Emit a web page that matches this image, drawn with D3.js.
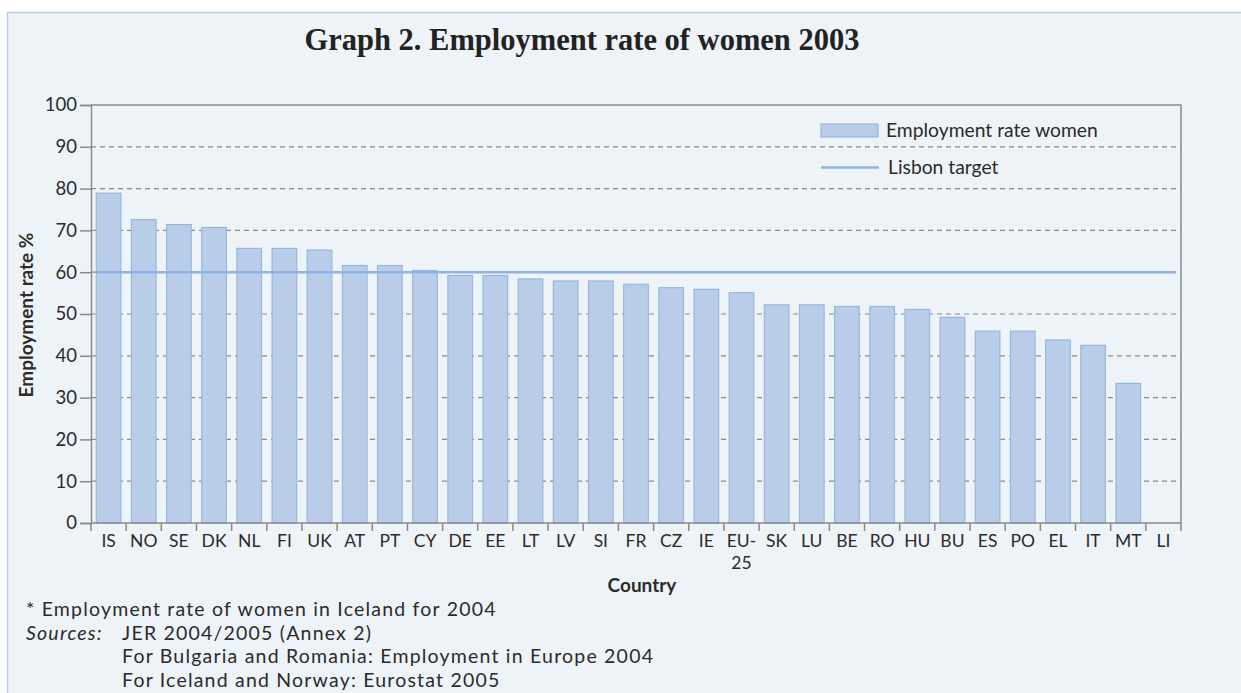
<!DOCTYPE html>
<html><head><meta charset="utf-8">
<script src="https://cdn.jsdelivr.net/npm/d3@7"></script>
<style>
body{margin:0;background:#fff;}
svg text{font-family:"Lato","Open Sans",sans-serif;fill:#2b2b2b;}
</style></head>
<body><svg id="c" width="1241" height="693"></svg>
<script>
const countries = ["IS","NO","SE","DK","NL","FI","UK","AT","PT","CY","DE","EE","LT","LV","SI","FR","CZ","IE","EU-25","SK","LU","BE","RO","HU","BU","ES","PO","EL","IT","MT","LI"];
const rates = [78.9,72.6,71.4,70.7,65.7,65.7,65.3,61.6,61.6,60.4,59.2,59.2,58.4,57.9,57.9,57.1,56.3,55.9,55.1,52.2,52.2,51.8,51.8,51.1,49.2,45.9,45.9,43.8,42.5,33.4,null];
const lisbonTarget = 60;
const yTicks = [0,10,20,30,40,50,60,70,80,90,100];
const footnote = "* Employment rate of women in Iceland for 2004";
const sources = ["JER 2004/2005 (Annex 2)","For Bulgaria and Romania: Employment in Europe 2004","For Iceland and Norway: Eurostat 2005"];

const svg = d3.select("#c");
svg.append("rect").attr("x",7.5).attr("y",12.5).attr("width",1260).attr("height",720)
  .attr("fill","#eef3f8").attr("stroke","#b9cde6").attr("stroke-width",1.5);

const L=91, R=1181, T=105, B=523;
const x = d3.scaleBand().domain(countries).range([L,R]).paddingInner(0.3).paddingOuter(0.15);
const xb = d3.scaleBand().domain(countries).range([L,R]);
const y = d3.scaleLinear().domain([0,100]).range([B,T]);

svg.append("text").attr("x",582).attr("y",50).attr("text-anchor","middle")
  .style("font-family","'Liberation Serif',serif").style("font-weight","bold").style("font-size","30.5px")
  .style("fill","#222").text("Graph 2. Employment rate of women 2003");

// grid
svg.append("g").selectAll("line").data(yTicks.filter(d=>d>0&&d<100)).join("line")
  .attr("x1",L).attr("x2",R).attr("y1",d=>y(d)).attr("y2",d=>y(d))
  .attr("stroke","#8a8a8a").attr("stroke-width",1.2).attr("stroke-dasharray","5,4");
svg.append("path").attr("d",`M${L},${y(100)}H${R}V${B}`).attr("fill","none").attr("stroke","#8a8a8a").attr("stroke-width",1.5);

// bars
svg.append("g").selectAll("rect").data(countries.map((c,i)=>({c,v:rates[i]})).filter(d=>d.v!=null)).join("rect")
  .attr("x",d=>x(d.c)).attr("width",x.bandwidth()).attr("y",d=>y(d.v)).attr("height",d=>B-y(d.v))
  .attr("fill","#b9cde9").attr("stroke","#95b7e2").attr("stroke-width",1.2);

// lisbon line
svg.append("line").attr("x1",L+5).attr("x2",R-5).attr("y1",y(lisbonTarget)).attr("y2",y(lisbonTarget))
  .attr("stroke","#8fb3e2").attr("stroke-width",2.5);

// y axis
const ya = svg.append("g").attr("transform",`translate(${L},0)`).call(d3.axisLeft(y).tickValues(yTicks).tickSize(11).tickPadding(3));
ya.select(".domain").attr("stroke","#8a8a8a").attr("stroke-width",1.5);
ya.selectAll(".tick line").attr("stroke","#8a8a8a").attr("stroke-width",1.5);
ya.selectAll(".tick text").style("font-size","18.5px").style("fill","#2b2b2b").style("font-family","Lato");

// x axis
svg.append("line").attr("x1",L).attr("x2",R).attr("y1",B).attr("y2",B).attr("stroke","#8a8a8a").attr("stroke-width",1.5);
svg.append("g").selectAll("line").data(countries.concat(["_end"])).join("line")
  .attr("x1",(d,i)=>i<countries.length?xb(d):R).attr("x2",(d,i)=>i<countries.length?xb(d):R)
  .attr("y1",B).attr("y2",B+8).attr("stroke","#8a8a8a").attr("stroke-width",1.5);
const xl = svg.append("g").selectAll("text").data(countries).join("text")
  .attr("x",d=>xb(d)+xb.bandwidth()/2).attr("y",B+24).attr("text-anchor","middle")
  .style("font-size","17.5px");
xl.each(function(d){
  const t=d3.select(this);
  if(d==="EU-25"){
    t.append("tspan").attr("x",xb(d)+xb.bandwidth()/2).text("EU-");
    t.append("tspan").attr("x",xb(d)+xb.bandwidth()/2).attr("dy",22).text("25");
  } else t.text(d);
});

svg.append("text").attr("x",642).attr("y",592).attr("text-anchor","middle")
  .style("font-weight","bold").style("font-size","19px").text("Country");
svg.append("text").attr("transform",`translate(33,315) rotate(-90)`).attr("text-anchor","middle")
  .style("font-weight","bold").style("font-size","19px").text("Employment rate %");

// legend
svg.append("rect").attr("x",821).attr("y",124).attr("width",57).attr("height",13)
  .attr("fill","#b9cde9").attr("stroke","#95b7e2").attr("stroke-width",1.2);
svg.append("text").attr("x",886).attr("y",137).style("font-size","19.3px").text("Employment rate women");
svg.append("line").attr("x1",821).attr("x2",879).attr("y1",167.5).attr("y2",167.5).attr("stroke","#8fb3e2").attr("stroke-width",2.5);
svg.append("text").attr("x",888).attr("y",173.5).style("font-size","19.3px").text("Lisbon target");

// footnotes
const fn = {size:"19.5px", ls:"1.2px"};
svg.append("text").attr("x",26).attr("y",616).style("font-size",fn.size).style("letter-spacing",fn.ls).text(footnote);
svg.append("text").attr("x",26).attr("y",639.5).style("font-size",fn.size).style("letter-spacing",fn.ls).style("font-style","italic").text("Sources:");
svg.append("g").selectAll("text").data(sources).join("text")
  .attr("x",122).attr("y",(d,i)=>639.5+i*23.6).style("font-size",fn.size).style("letter-spacing",fn.ls).text(d=>d);
</script></body></html>
